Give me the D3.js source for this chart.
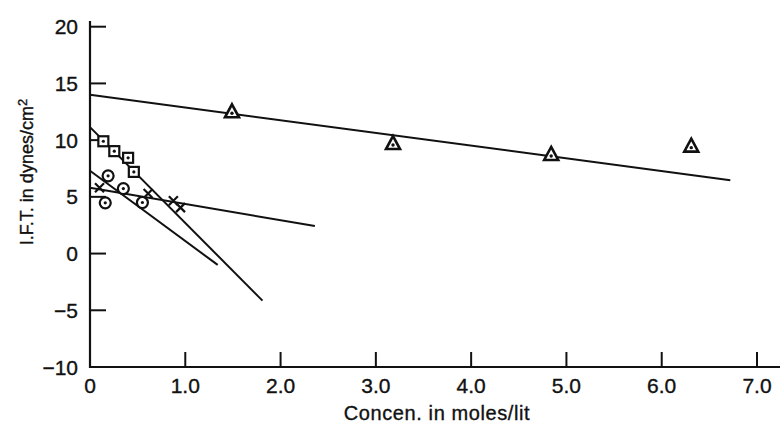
<!DOCTYPE html>
<html>
<head>
<meta charset="utf-8">
<script src="https://cdn.jsdelivr.net/npm/d3@7"></script>
<style>
  body { margin: 0; background: #fff; }
  text { font-family: "Liberation Sans", Arial, sans-serif; fill: #111; stroke: #111; stroke-width: 0.35px; }
</style>
</head>
<body>
<svg id="chart" width="780" height="425"></svg>
<script>
// data
var squareX = [0.14, 0.255, 0.40, 0.46];
var squareY = [9.9, 9.03, 8.44, 7.2];
var circleX = [0.19, 0.35, 0.16, 0.55];
var circleY = [6.85, 5.73, 4.47, 4.5];
var crossX = [0.10, 0.61, 0.875, 0.95];
var crossY = [5.8, 5.3, 4.65, 4.05];
var triX = [1.49, 3.18, 4.84, 6.31];
var triY = [12.5, 9.7, 8.74, 9.47];

// fitted lines: [x0, y0, x1, y1]
var triLine = [0, 14.0, 6.72, 6.47];
var squareLine = [0, 11.15, 1.81, -4.15];
var circleLine = [0, 7.3, 1.34, -1.0];
var crossLine = [0, 5.8, 2.36, 2.43];

var xTicks = [0, 1, 2, 3, 4, 5, 6, 7];
var yTicks = [-10, -5, 0, 5, 10, 15, 20];

var svg = d3.select("#chart");

// scales
var x = d3.scaleLinear().domain([0, 7]).range([90, 757]);
var y = d3.scaleLinear().domain([-10, 20]).range([367, 26.7]);

var ink = "#111";

// axis lines
svg.append("line")
  .attr("x1", x(0)).attr("x2", x(0))
  .attr("y1", y(20.5)).attr("y2", y(-10) + 1)
  .attr("stroke", ink).attr("stroke-width", 2.2);
svg.append("line")
  .attr("x1", x(0) - 1).attr("x2", 780)
  .attr("y1", y(-10)).attr("y2", y(-10))
  .attr("stroke", ink).attr("stroke-width", 2.2);

// y ticks (inward)
svg.selectAll(".ytick")
  .data(yTicks.filter(d => d > -10))
  .enter().append("line")
  .attr("class", "ytick")
  .attr("x1", x(0)).attr("x2", x(0) + 16)
  .attr("y1", d => y(d)).attr("y2", d => y(d))
  .attr("stroke", ink).attr("stroke-width", 2);

svg.selectAll(".ylab")
  .data(yTicks)
  .enter().append("text")
  .attr("class", "ylab")
  .attr("x", 78)
  .attr("y", d => y(d))
  .attr("dy", "0.36em")
  .attr("text-anchor", "end")
  .attr("font-size", "21px")
  .text(d => d3.format("")(d));

// x ticks (inward)
svg.selectAll(".xtick")
  .data(xTicks.filter(d => d > 0))
  .enter().append("line")
  .attr("class", "xtick")
  .attr("x1", d => x(d)).attr("x2", d => x(d))
  .attr("y1", y(-10)).attr("y2", y(-10) - 15)
  .attr("stroke", ink).attr("stroke-width", 2);

svg.selectAll(".xlab")
  .data(xTicks)
  .enter().append("text")
  .attr("class", "xlab")
  .attr("x", d => x(d))
  .attr("y", 393)
  .attr("text-anchor", "middle")
  .attr("font-size", "21px")
  .text(d => d === 0 ? "0" : d3.format(".1f")(d));

// axis titles
svg.append("text")
  .attr("x", 437)
  .attr("y", 420)
  .attr("text-anchor", "middle")
  .attr("font-size", "20px")
  .attr("letter-spacing", "0.6px")
  .text("Concen. in moles/lit");

var yTitle = svg.append("text")
  .attr("transform", "translate(33,172) rotate(-90)")
  .attr("text-anchor", "middle")
  .attr("font-size", "18px");
yTitle.append("tspan").text("I.F.T. in dynes/cm");
yTitle.append("tspan").attr("dy", "-0.45em").attr("font-size", "13px").text("2");

// fitted lines
[triLine, squareLine, circleLine, crossLine].forEach(function(l) {
  svg.append("line")
    .attr("x1", x(l[0])).attr("y1", y(l[1]))
    .attr("x2", x(l[2])).attr("y2", y(l[3]))
    .attr("stroke", ink).attr("stroke-width", 2);
});

// markers
var squares = d3.zip(squareX, squareY);
var circles = d3.zip(circleX, circleY);
var crosses = d3.zip(crossX, crossY);
var tris = d3.zip(triX, triY);

var sq = svg.selectAll(".sq").data(squares).enter().append("g")
  .attr("transform", d => "translate(" + x(d[0]) + "," + y(d[1]) + ")");
sq.append("rect").attr("x", -5).attr("y", -5).attr("width", 10).attr("height", 10)
  .attr("fill", "#fff").attr("stroke", ink).attr("stroke-width", 2.2);
sq.append("circle").attr("r", 1.6).attr("fill", ink);

var ci = svg.selectAll(".ci").data(circles).enter().append("g")
  .attr("transform", d => "translate(" + x(d[0]) + "," + y(d[1]) + ")");
ci.append("circle").attr("r", 5.5).attr("fill", "#fff").attr("stroke", ink).attr("stroke-width", 2.2);
ci.append("circle").attr("r", 1.6).attr("fill", ink);

var cr = svg.selectAll(".cr").data(crosses).enter().append("path")
  .attr("transform", d => "translate(" + x(d[0]) + "," + y(d[1]) + ")")
  .attr("d", "M-4.5,-4.5L4.5,4.5M-4.5,4.5L4.5,-4.5")
  .attr("stroke", ink).attr("stroke-width", 2.2);

var tr = svg.selectAll(".tr").data(tris).enter().append("g")
  .attr("transform", d => "translate(" + x(d[0]) + "," + y(d[1]) + ")");
tr.append("path").attr("d", "M0,-7.5L7,5.5L-7,5.5Z")
  .attr("fill", "#fff").attr("stroke", ink).attr("stroke-width", 2.6).attr("stroke-linejoin", "miter");
tr.append("circle").attr("cy", 1.5).attr("r", 1.7).attr("fill", ink);
</script>
</body>
</html>
